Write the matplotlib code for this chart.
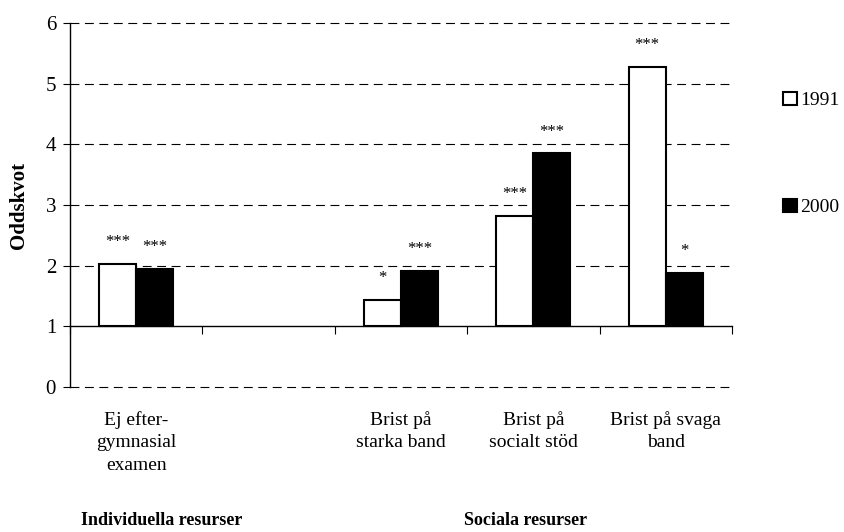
import matplotlib
matplotlib.use("Agg")
import matplotlib.pyplot as plt
import matplotlib.transforms as mtransforms
from matplotlib.patches import Patch
import numpy as np

plt.rcParams['font.family'] = ['Liberation Serif', 'DejaVu Serif']

kategorier = ['Ej efter-\ngymnasial\nexamen', '', 'Brist på\nstarka band',
              'Brist på\nsocialt stöd', 'Brist på svaga\nband']
varden_1991 = [2.03, np.nan, 1.43, 2.82, 5.27]
varden_2000 = [1.95, np.nan, 1.91, 3.85, 1.88]
stjarnor_1991 = ['***', '', '*', '***', '***']
stjarnor_2000 = ['***', '', '***', '***', '*']
grupper = ['Individuella resurser', 'Sociala resurser']
grupp_pos = [0.191, 0.622]

fig = plt.figure(figsize=(8.45, 5.32), dpi=100)
ax = fig.add_axes([0.0828, 0.2726, 0.7834, 0.6842])

x = np.arange(len(kategorier))
bredd = 0.28
bas = 1.0

h91 = np.array(varden_1991) - bas
h00 = np.array(varden_2000) - bas
ax.bar(x - bredd / 2, h91, bredd, bottom=bas, color='white', edgecolor='black', linewidth=1.5, zorder=3)
ax.bar(x + bredd / 2, h00, bredd, bottom=bas, color='black', edgecolor='black', linewidth=1.5, zorder=3)

for i in range(len(kategorier)):
    if stjarnor_1991[i]:
        ax.annotate(stjarnor_1991[i], (x[i] - bredd / 2, varden_1991[i]), xytext=(0, 10),
                    textcoords='offset points', ha='center', va='bottom', fontsize=12)
    if stjarnor_2000[i]:
        ax.annotate(stjarnor_2000[i], (x[i] + bredd / 2, varden_2000[i]), xytext=(0, 10),
                    textcoords='offset points', ha='center', va='bottom', fontsize=12)

ax.set_xlim(-0.5, len(kategorier) - 0.5)
ax.set_ylim(0, 6)
ax.set_yticks(range(7))
ax.tick_params(axis='y', labelsize=15, length=5, width=0.8, pad=5)
for y in range(7):
    if y != 1:
        ax.axhline(y, color='black', linestyle=(0, (8, 5)), linewidth=0.8, zorder=1, clip_on=False)

ax.spines['top'].set_visible(False)
ax.spines['right'].set_visible(False)
ax.spines['bottom'].set_position(('data', 1))
ax.spines['bottom'].set_linewidth(1.0)
ax.spines['left'].set_linewidth(1.0)
ax.set_xticks(np.arange(-0.5, len(kategorier), 1.0))
ax.set_xticklabels([])
ax.tick_params(axis='x', direction='out', length=6, width=0.8)

trans = mtransforms.blended_transform_factory(ax.transData, ax.transAxes)
for i, lab in enumerate(kategorier):
    ax.text(x[i], -0.065, lab, transform=trans, ha='center', va='top', fontsize=14, linespacing=1.45)

for g, pos in zip(grupper, grupp_pos):
    fig.text(pos, 0.006, g, ha='center', va='bottom', fontsize=13, fontweight='bold')

ax.set_ylabel('Oddskvot', fontsize=15, fontweight='bold', labelpad=12)

handles = [Patch(facecolor='white', edgecolor='black', linewidth=1.5),
           Patch(facecolor='black', edgecolor='black', linewidth=1.5)]
fig.legend(handles, ['1991', '2000'], loc='center left', bbox_to_anchor=(0.927, 0.7105),
           frameon=False, fontsize=14, handlelength=0.7, handleheight=0.7,
           handletextpad=0.15, labelspacing=4.6, borderpad=0, borderaxespad=0)

fig.savefig('out.png', dpi=100)
